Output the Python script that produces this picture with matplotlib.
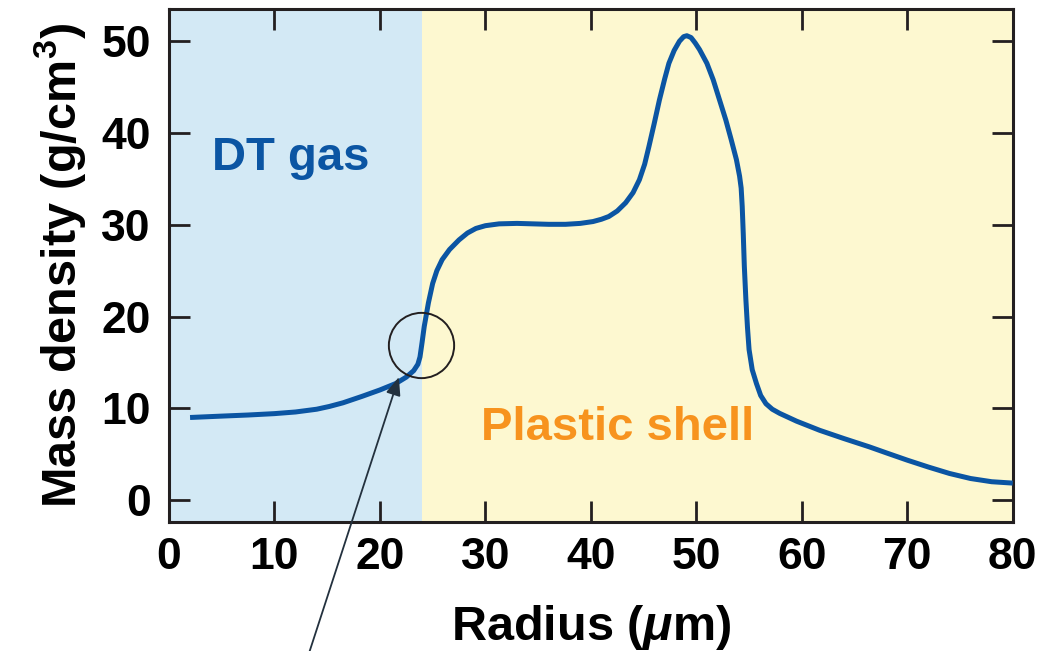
import matplotlib
matplotlib.use("Agg")
import matplotlib.pyplot as plt

plt.rcParams['font.family'] = ['Liberation Sans', 'DejaVu Sans']
plt.rcParams['font.weight'] = 'bold'
plt.rcParams['mathtext.fontset'] = 'custom'
plt.rcParams['mathtext.it'] = 'Liberation Sans:italic:bold'
plt.rcParams['mathtext.rm'] = 'Liberation Sans:bold'

# radius (um) and mass density (g/cm^3) along the profile
radius = [2, 5, 7.5, 10, 12, 14, 15.2, 16.5, 18.3, 20, 21.5, 22.5, 23.2,
          23.6, 23.8, 24.0, 24.2, 24.6, 25.0, 25.4, 25.9, 26.6, 27.5, 28.3,
          29.1, 30.0, 31.3, 33, 34.5, 36, 37.6, 39, 40.2, 41.0, 41.7, 42.5,
          43.3, 44.0, 44.6, 45.1, 45.5, 46.0, 46.5, 47.0, 47.4, 47.9, 48.4,
          48.8, 49.1, 49.5, 49.9, 50.3, 51.0, 51.6, 52.2, 52.8, 53.3, 53.8,
          54.1, 54.25, 54.35, 54.45, 54.55, 54.7, 54.85, 55.0, 55.3, 55.7,
          56.1, 56.6, 57.2, 57.9, 59.5, 61.7, 64, 66.4, 68, 70, 72, 74,
          76, 78, 80]
density = [9.0, 9.15, 9.27, 9.42, 9.6, 9.9, 10.2, 10.6, 11.3, 12.0, 12.7,
           13.4, 14.1, 14.8, 15.6, 17.2, 18.9, 21.5, 23.6, 25.0, 26.2, 27.3,
           28.35, 29.1, 29.6, 29.9, 30.1, 30.15, 30.1, 30.05, 30.05, 30.15,
           30.35, 30.6, 30.9, 31.5, 32.4, 33.5, 34.9, 36.6, 38.5, 41.0, 43.6,
           45.9, 47.6, 49.0, 50.0, 50.5, 50.6, 50.4, 49.8, 49.1, 47.6, 45.8,
           43.6, 41.4, 39.3, 37.1, 35.3, 34.0, 32.0, 29.0, 25.5, 21.8, 18.8,
           16.4, 14.2, 12.7, 11.4, 10.5, 9.9, 9.45, 8.6, 7.6, 6.7, 5.8, 5.15,
           4.35, 3.6, 2.9, 2.35, 2.0, 1.85]

x_ticks = [0, 10, 20, 30, 40, 50, 60, 70, 80]
y_ticks = [0, 10, 20, 30, 40, 50]
gas_edge = 24.0

blue = '#0b55a3'
dark = '#231f20'

fig = plt.figure(figsize=(10.43, 6.51), dpi=100)
ax = fig.add_axes([0.162, 0.198, 0.809, 0.788])

ax.axvspan(0, gas_edge, color='#d3e9f5', lw=0, zorder=0)
ax.axvspan(gas_edge, 80, color='#fdf8d0', lw=0, zorder=0)

ax.plot(radius, density, color=blue, lw=3.6, solid_joinstyle='round',
        solid_capstyle='butt', zorder=3)

ax.text(11.5, 37.3, 'DT gas', color=blue, fontsize=34, ha='center',
        va='center', fontweight='bold')
ax.text(42.5, 7.9, 'Plastic shell', color='#f7931e', fontsize=34,
        ha='center', va='center', fontweight='bold')

# circled kink at the gas/shell interface
ax.plot(23.9, 16.9, marker='o', ms=47, mfc='none', mec=dark, mew=1.4,
        zorder=4)
ax.annotate('', xy=(21.8, 13.4), xytext=(13.3, -16.6),
            arrowprops=dict(arrowstyle='-|>,head_length=1.1,head_width=0.45',
                            color='#23313e', lw=1.3, shrinkA=0, shrinkB=0),
            annotation_clip=False, zorder=5)

ax.set_xlim(0, 80)
ax.set_ylim(-2.4, 53.5)
ax.set_xticks(x_ticks)
ax.set_yticks(y_ticks)
ax.tick_params(direction='in', length=15, width=2, color=dark,
               top=True, right=True, labelsize=32, pad=11)
ax.tick_params(axis='y', pad=13)
for lab in ax.get_xticklabels() + ax.get_yticklabels():
    lab.set_fontweight('bold')
for sp in ax.spines.values():
    sp.set_linewidth(2.2)
    sp.set_color(dark)

ax.set_xlabel(r'Radius ($\mu$m)', fontsize=35, fontweight='bold', labelpad=18)
ax.set_ylabel(r'Mass density (g/cm$^3$)', fontsize=35, fontweight='bold',
              labelpad=10)

fig.savefig('out.png', dpi=100)
